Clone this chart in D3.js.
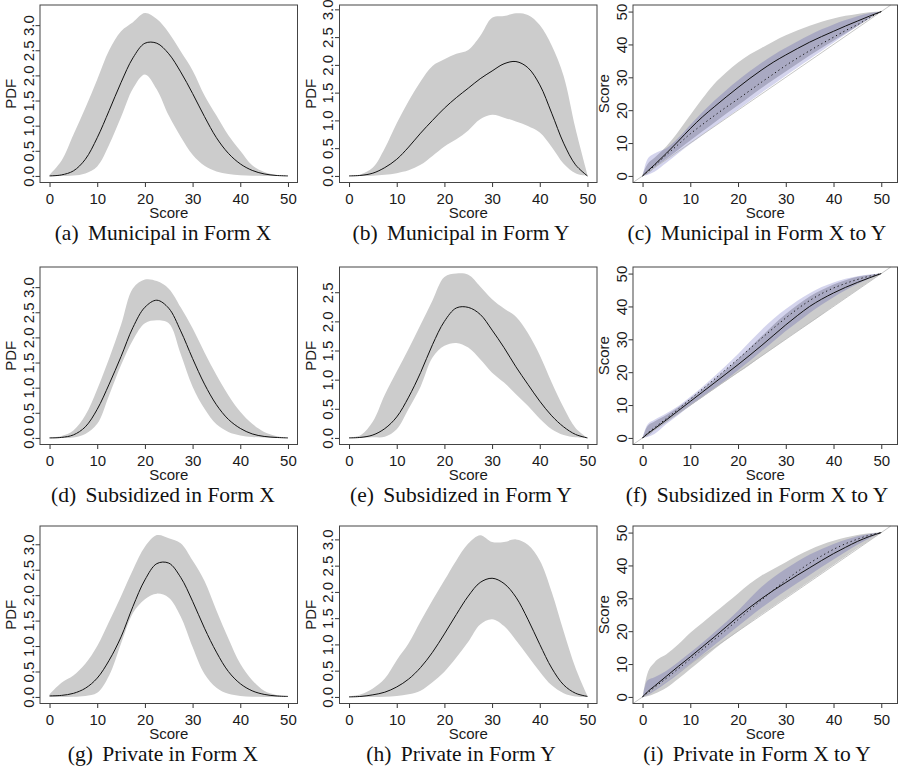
<!DOCTYPE html>
<html>
<head>
<meta charset="utf-8">
<script src="https://cdn.jsdelivr.net/npm/d3@7/dist/d3.min.js"></script>
<style>
  body { margin: 0; background: #fff; }
  svg { display: block; }
</style>
</head>
<body>
<div id="chart"></div>
<script>
// score grid for the density panels
const scoreX = d3.range(0, 50.01, 2.5);
// score grid for the equating panels (extra point at 1 for the steep start)
const eqX = [0, 1, 2.5, 5, 7.5, 10, 12.5, 15, 17.5, 20, 22.5, 25, 27.5, 30, 32.5, 35, 37.5, 40, 42.5, 45, 47.5, 50];

const xTicks = [0, 10, 20, 30, 40, 50];
const pdfTicks = [0, 0.5, 1, 1.5, 2, 2.5, 3];
const eqTicks = [0, 10, 20, 30, 40, 50];

// (a) Municipal in Form X
const munXMean = [0, 0.02, 0.10, 0.33, 0.76, 1.30, 1.86, 2.35, 2.64, 2.64, 2.43, 2.07, 1.64, 1.18, 0.76, 0.45, 0.24, 0.11, 0.04, 0.01, 0];
const munXHi = [0.02, 0.30, 0.82, 1.35, 1.92, 2.50, 2.88, 3.06, 3.24, 3.12, 2.85, 2.48, 2.10, 1.60, 1.20, 0.81, 0.50, 0.21, 0.08, 0.02, 0];
const munXLo = [0, 0, 0.01, 0.05, 0.19, 0.62, 1.17, 1.74, 2.02, 1.72, 1.20, 0.78, 0.42, 0.20, 0.09, 0.04, 0.015, 0.005, 0, 0, 0];

// (b) Municipal in Form Y
const munYMean = [0, 0.01, 0.05, 0.15, 0.30, 0.52, 0.77, 1.00, 1.22, 1.41, 1.58, 1.75, 1.89, 2.02, 2.06, 1.95, 1.64, 1.13, 0.59, 0.20, 0];
const munYHi = [0, 0.03, 0.15, 0.50, 0.95, 1.35, 1.70, 1.98, 2.10, 2.20, 2.27, 2.52, 2.85, 2.88, 2.93, 2.90, 2.72, 2.35, 1.80, 0.85, 0.02];
const munYLo = [0, 0, 0.005, 0.02, 0.05, 0.10, 0.20, 0.36, 0.53, 0.66, 0.82, 1.02, 1.10, 1.05, 0.98, 0.90, 0.78, 0.52, 0.22, 0.05, 0];

// (d) Subsidized in Form X
const subXMean = [0, 0.01, 0.06, 0.22, 0.57, 1.07, 1.62, 2.20, 2.60, 2.74, 2.58, 2.13, 1.58, 1.07, 0.66, 0.37, 0.19, 0.08, 0.03, 0.01, 0];
const subXHi = [0.01, 0.04, 0.15, 0.45, 0.97, 1.58, 2.25, 2.98, 3.15, 3.12, 2.97, 2.60, 2.18, 1.70, 1.25, 0.85, 0.52, 0.28, 0.12, 0.04, 0];
const subXLo = [0, 0, 0.01, 0.08, 0.28, 0.85, 1.45, 1.95, 2.28, 2.34, 2.28, 1.67, 1.02, 0.58, 0.27, 0.12, 0.05, 0.02, 0.01, 0, 0];

// (e) Subsidized in Form Y
const subYMean = [0, 0.01, 0.05, 0.16, 0.36, 0.70, 1.12, 1.60, 2.00, 2.23, 2.24, 2.12, 1.85, 1.55, 1.22, 0.92, 0.63, 0.38, 0.19, 0.06, 0];
const subYHi = [0.01, 0.05, 0.28, 0.74, 1.14, 1.53, 1.94, 2.36, 2.76, 2.82, 2.80, 2.60, 2.38, 2.22, 2.08, 1.80, 1.42, 0.95, 0.52, 0.17, 0];
const subYLo = [0, 0, 0.01, 0.02, 0.15, 0.50, 0.88, 1.38, 1.58, 1.63, 1.55, 1.35, 1.12, 0.95, 0.75, 0.55, 0.33, 0.15, 0.05, 0.01, 0];

// (g) Private in Form X
const priXMean = [0.02, 0.03, 0.07, 0.17, 0.37, 0.72, 1.18, 1.78, 2.30, 2.62, 2.63, 2.35, 1.88, 1.35, 0.88, 0.50, 0.26, 0.12, 0.05, 0.02, 0.01];
const priXHi = [0.05, 0.28, 0.42, 0.65, 1.00, 1.48, 1.98, 2.50, 2.95, 3.18, 3.12, 3.02, 2.68, 2.28, 1.70, 1.15, 0.65, 0.33, 0.12, 0.04, 0.01];
const priXLo = [0, 0, 0.005, 0.02, 0.08, 0.42, 1.05, 1.65, 1.92, 2.03, 1.95, 1.58, 0.98, 0.45, 0.18, 0.06, 0.02, 0.005, 0, 0, 0];

// (h) Private in Form Y
const priYMean = [0, 0.01, 0.04, 0.09, 0.19, 0.34, 0.56, 0.85, 1.20, 1.57, 1.92, 2.18, 2.26, 2.16, 1.90, 1.48, 1.00, 0.55, 0.23, 0.07, 0.01];
const priYHi = [0.01, 0.05, 0.16, 0.35, 0.70, 1.02, 1.44, 1.84, 2.22, 2.60, 2.92, 3.08, 2.95, 2.95, 3.00, 2.90, 2.60, 2.00, 1.25, 0.55, 0.02];
const priYLo = [0, 0, 0, 0.005, 0.02, 0.05, 0.12, 0.28, 0.48, 0.75, 1.05, 1.38, 1.48, 1.35, 1.08, 0.78, 0.48, 0.22, 0.07, 0.01, 0];

// highest point of each density band (sets the y range, like R's ylim)
const pdfPeak = [3.27, 2.96, 3.27, 2.82, 3.23, 3.13];

// (c) Municipal in Form X to Y
const munSolid = [0, 1.4, 3.4, 6.9, 10.6, 14.4, 17.9, 21.0, 24.0, 26.9, 29.7, 32.3, 34.7, 36.8, 38.8, 40.7, 42.4, 44.0, 45.6, 47.1, 48.6, 50];
const munDotted = [0, 1.2, 3.1, 6.4, 9.6, 12.8, 15.6, 18.3, 20.9, 23.4, 26.0, 28.6, 31.1, 33.6, 35.9, 38.1, 40.2, 42.2, 44.2, 46.0, 48.1, 50];
const munGrayHi = [0.5, 3.5, 5.5, 9.0, 13.5, 18.5, 23.5, 28.0, 31.5, 34.5, 37.0, 39.0, 41.0, 42.8, 44.3, 45.7, 46.9, 47.9, 48.7, 49.3, 49.8, 50];
const munGrayLo = [0, 0.6, 2.4, 5.2, 8.0, 10.8, 13.5, 16.2, 18.9, 21.5, 24.2, 26.8, 29.3, 31.8, 34.2, 36.6, 38.9, 41.1, 43.3, 45.5, 47.8, 50];
const munBlueHi = [0, 5.0, 6.8, 8.4, 11.6, 15.6, 19.4, 22.9, 26.1, 29.1, 31.9, 34.5, 36.9, 39.0, 41.0, 42.9, 44.6, 46.1, 47.4, 48.6, 49.5, 50];
const munBlueLo = [0, 0.3, 1.3, 4.0, 6.9, 9.7, 12.4, 15.0, 17.6, 20.2, 22.8, 25.4, 27.9, 30.5, 33.0, 35.5, 38.0, 40.5, 43.0, 45.5, 47.9, 50];

// (f) Subsidized in Form X to Y
const subSolid = [0, 1.2, 2.8, 5.5, 8.3, 11.1, 13.9, 16.7, 19.5, 22.3, 25.2, 28.2, 31.3, 34.4, 37.3, 40.0, 42.2, 44.1, 45.8, 47.3, 48.7, 50];
const subDotted = [0, 1.4, 3.1, 5.9, 8.8, 11.8, 14.8, 17.8, 20.9, 24.0, 27.2, 30.4, 33.5, 36.5, 39.3, 41.8, 43.9, 45.6, 47.0, 48.2, 49.2, 50];
const subGrayHi = [0, 3.5, 5.0, 7.0, 9.3, 12.0, 14.8, 17.8, 20.8, 24.0, 27.5, 31.0, 34.5, 37.7, 40.5, 43.0, 45.0, 46.7, 48.0, 49.0, 49.6, 50];
const subGrayLo = [0, 0.5, 2.3, 4.8, 7.3, 9.8, 12.3, 14.8, 17.3, 19.8, 22.3, 24.9, 27.4, 30.0, 32.5, 35.0, 37.5, 40.1, 42.6, 45.1, 47.6, 50];
const subBlueHi = [0, 4.0, 5.5, 7.5, 9.7, 12.5, 15.5, 18.7, 22.0, 25.5, 29.3, 33.0, 36.3, 39.2, 41.8, 44.0, 45.9, 47.3, 48.4, 49.2, 49.7, 50];
const subBlueLo = [0, 0.3, 1.2, 4.2, 7.0, 9.8, 12.4, 15.0, 17.7, 20.6, 23.5, 26.5, 29.5, 32.5, 35.3, 38.0, 40.5, 42.8, 44.9, 46.8, 48.5, 50];

// (i) Private in Form X to Y
const priSolid = [0, 1.5, 3.3, 6.3, 9.3, 12.2, 15.2, 18.2, 21.3, 24.4, 27.3, 30.0, 32.5, 34.8, 37.1, 39.3, 41.5, 43.6, 45.5, 47.3, 48.8, 50];
const priDotted = [0, 1.2, 2.9, 5.7, 8.6, 11.5, 14.4, 17.4, 20.4, 23.5, 26.6, 29.6, 32.6, 35.5, 38.2, 40.7, 42.9, 44.9, 46.6, 48.0, 49.2, 50];
const priGrayHi = [0, 7.0, 10.5, 13.0, 16.0, 19.5, 22.5, 25.5, 28.5, 31.5, 34.5, 37.0, 39.0, 41.0, 43.0, 44.8, 46.3, 47.5, 48.5, 49.3, 49.8, 50];
const priGrayLo = [0, 0.2, 1.0, 2.8, 5.5, 8.5, 11.5, 14.5, 17.3, 20.0, 22.6, 25.2, 27.7, 30.2, 32.7, 35.2, 37.7, 40.2, 42.7, 45.2, 47.6, 50];
const priBlueHi = [0, 5.0, 6.0, 8.0, 10.6, 13.5, 16.5, 19.6, 22.8, 26.2, 30.0, 33.6, 36.5, 39.0, 41.3, 43.3, 45.0, 46.5, 47.8, 48.9, 49.6, 50];
const priBlueLo = [0, 0.5, 1.8, 4.3, 7.0, 9.9, 12.8, 15.7, 18.6, 21.5, 24.4, 27.2, 29.8, 32.3, 34.7, 37.1, 39.5, 41.8, 44.1, 46.3, 48.3, 50];

const captions = [
  ['(a)', 'Municipal in Form X'], ['(b)', 'Municipal in Form Y'], ['(c)', 'Municipal in Form X to Y'],
  ['(d)', 'Subsidized in Form X'], ['(e)', 'Subsidized in Form Y'], ['(f)', 'Subsidized in Form X to Y'],
  ['(g)', 'Private in Form X'], ['(h)', 'Private in Form Y'], ['(i)', 'Private in Form X to Y']
];

const pdfPanels = [
  {mean: munXMean, hi: munXHi, lo: munXLo},
  {mean: munYMean, hi: munYHi, lo: munYLo},
  {mean: subXMean, hi: subXHi, lo: subXLo},
  {mean: subYMean, hi: subYHi, lo: subYLo},
  {mean: priXMean, hi: priXHi, lo: priXLo},
  {mean: priYMean, hi: priYHi, lo: priYLo}
];
const eqPanels = [
  {solid: munSolid, dotted: munDotted, grayHi: munGrayHi, grayLo: munGrayLo, blueHi: munBlueHi, blueLo: munBlueLo},
  {solid: subSolid, dotted: subDotted, grayHi: subGrayHi, grayLo: subGrayLo, blueHi: subBlueHi, blueLo: subBlueLo},
  {solid: priSolid, dotted: priDotted, grayHi: priGrayHi, grayLo: priGrayLo, blueHi: priBlueHi, blueLo: priBlueLo}
];

// layout (the equating column is a little wider on the right)
const colLeft = [40, 339.5, 633];
const colW = [257.5, 257.5, 264.5];
const xMax = [52, 52, 53.4];
const rowTop = [5, 267, 526];
const capX = [163, 461, 757];
const boxH = 177.5;
const sans = 'Liberation Sans, Arial, Helvetica, sans-serif';
const serif = 'Liberation Serif, Times New Roman, serif';
const smooth = d3.curveCatmullRom.alpha(0.5);

const svg = d3.select('#chart')
              .append('svg')
              .attr('width', 898)
              .attr('height', 773);

svg.append('rect').attr('width', 898).attr('height', 773).attr('fill', '#fff');

function frame(g, boxW, x, y, yTicks, yFmt, yTitle) {
  g.append('g')
    .attr('transform', 'translate(0,' + boxH + ')')
    .call(d3.axisBottom(x).tickValues(xTicks).tickSize(4.5).tickPadding(6).tickFormat(d3.format('d')))
    .call(a => a.select('.domain').remove())
    .call(a => a.selectAll('line').attr('stroke', '#333'))
    .call(a => a.selectAll('text').attr('fill', '#1a1a1a'))
    .attr('font-family', sans)
    .attr('font-size', 15);

  g.append('g')
    .call(d3.axisLeft(y).tickValues(yTicks).tickSize(4.5).tickFormat(yFmt))
    .call(a => a.select('.domain').remove())
    .call(a => a.selectAll('line').attr('stroke', '#333'))
    .call(a => a.selectAll('text')
                .attr('fill', '#1a1a1a')
                .attr('x', 0)
                .attr('y', -6.5)
                .attr('dy', 0)
                .attr('text-anchor', 'middle')
                .attr('transform', 'rotate(-90)'))
    .attr('font-family', sans)
    .attr('font-size', 15);

  g.append('rect')
    .attr('width', boxW)
    .attr('height', boxH)
    .attr('fill', 'none')
    .attr('stroke', '#444')
    .attr('stroke-width', 1);

  g.append('text')
    .attr('x', boxW / 2)
    .attr('y', boxH + 35.5)
    .attr('text-anchor', 'middle')
    .attr('font-family', sans)
    .attr('font-size', 15)
    .attr('fill', '#1a1a1a')
    .text('Score');

  g.append('text')
    .attr('transform', 'translate(-24,' + (boxH / 2) + ') rotate(-90)')
    .attr('text-anchor', 'middle')
    .attr('font-family', sans)
    .attr('font-size', 15)
    .attr('fill', '#1a1a1a')
    .text(yTitle);
}

captions.forEach((c, k) => {
  const row = Math.floor(k / 3), col = k % 3;
  const boxW = colW[col];
  const g = svg.append('g')
              .attr('transform', 'translate(' + colLeft[col] + ',' + rowTop[row] + ')');

  const x = d3.scaleLinear().domain([-2, xMax[col]]).range([0, boxW]);

  if (col < 2) {
    const p = pdfPanels[row * 2 + col];
    const peak = pdfPeak[row * 2 + col];
    const y = d3.scaleLinear().domain([-0.04 * peak, 1.04 * peak]).range([boxH, 0]);
    const pts = scoreX.map((s, i) => ({s: s, lo: p.lo[i], hi: p.hi[i], m: p.mean[i]}));

    g.append('path')
      .datum(pts)
      .attr('fill', '#cccccc')
      .attr('d', d3.area().x(d => x(d.s)).y0(d => y(d.lo)).y1(d => y(d.hi)).curve(smooth));

    g.append('path')
      .datum(pts)
      .attr('fill', 'none')
      .attr('stroke', '#111')
      .attr('stroke-width', 1)
      .attr('d', d3.line().x(d => x(d.s)).y(d => y(d.m)).curve(smooth));

    frame(g, boxW, x, y, pdfTicks.filter(v => v <= 1.04 * peak), d3.format('.1f'), 'PDF');
  } else {
    const p = eqPanels[row];
    const y = d3.scaleLinear().domain([-2, 52]).range([boxH, 0]);
    const pts = eqX.map((s, i) => ({
      s: s, gLo: p.grayLo[i], gHi: p.grayHi[i], bLo: p.blueLo[i], bHi: p.blueHi[i],
      solid: p.solid[i], dotted: p.dotted[i]
    }));

    g.append('path')
      .datum(pts)
      .attr('fill', '#cccccc')
      .attr('d', d3.area().x(d => x(d.s)).y0(d => y(d.gLo)).y1(d => y(d.gHi)).curve(d3.curveMonotoneX));

    g.append('path')
      .datum(pts)
      .attr('fill', 'rgb(0,0,150)')
      .attr('fill-opacity', 0.17)
      .attr('d', d3.area().x(d => x(d.s)).y0(d => y(d.bLo)).y1(d => y(d.bHi)).curve(d3.curveMonotoneX));

    // identity line across the plot region
    g.append('line')
      .attr('x1', x(-2)).attr('y1', y(-2))
      .attr('x2', x(52)).attr('y2', y(52))
      .attr('stroke', '#b8b8b8')
      .attr('stroke-width', 0.8);

    g.append('path')
      .datum(pts)
      .attr('fill', 'none')
      .attr('stroke', '#111')
      .attr('stroke-width', 1)
      .attr('d', d3.line().x(d => x(d.s)).y(d => y(d.solid)).curve(d3.curveMonotoneX));

    g.append('path')
      .datum(pts)
      .attr('fill', 'none')
      .attr('stroke', '#111')
      .attr('stroke-width', 1)
      .attr('stroke-dasharray', '1.2,3')
      .attr('d', d3.line().x(d => x(d.s)).y(d => y(d.dotted)).curve(d3.curveMonotoneX));

    frame(g, boxW, x, y, eqTicks, d3.format('d'), 'Score');
  }

  const cap = svg.append('text')
                 .attr('x', capX[col])
                 .attr('y', rowTop[row] + boxH + 57.5)
                 .attr('text-anchor', 'middle')
                 .attr('font-family', serif)
                 .attr('font-size', 21.5)
                 .attr('fill', '#111');
  cap.append('tspan').text(c[0]);
  cap.append('tspan').attr('dx', 4).text(' ' + c[1]);
});
</script>
</body>
</html>
